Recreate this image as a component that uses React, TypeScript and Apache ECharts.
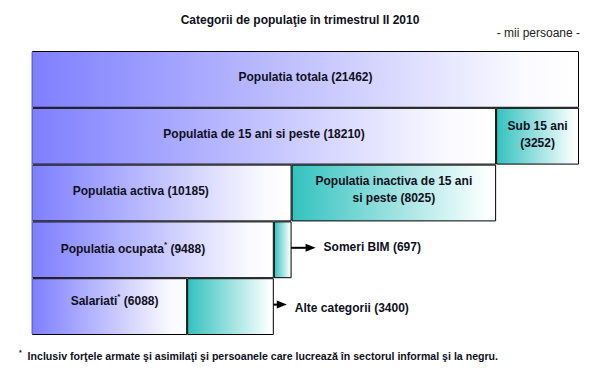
import React, { useEffect, useRef } from 'react';
import * as echarts from 'echarts';

const titleText = 'Categorii de populaţie în trimestrul II 2010';
const unitNote = '- mii persoane -';
const footnoteText = 'Inclusiv forţele armate şi asimilaţi şi persoanele care lucrează în sectorul informal şi la negru.';

const categories = ['Populatia totala', 'Populatia de 15 ani si peste', 'Populatia activa', 'Populatia ocupata', 'Salariati'];
const mainValues = [21462, 18210, 10185, 9488, 6088];
const mainStarred = [false, false, false, true, true];
const restNames = ['', 'Sub 15 ani', 'Populatia inactiva de 15 ani\nsi peste', 'Someri BIM', 'Alte categorii'];
const restValues: (number | null)[] = [null, 3252, 8025, 697, 3400];

// layout / style (not data)
const mainOffsets = [[0, -2], [0, -2], [-21, -2], [-20, -1], [5, -6]];
const restOutside = [false, false, false, true, true];
const restDistance = [0, 0, 0, 32, 21];
const restOffsets = [[0, 0], [0, -2], [0, -3.5], [0, -3], [0, 1.5]];

const FONT = "'Liberation Sans', Arial, sans-serif";
const TXT = '#10101c';
const PURPLE_LEFT = '#7F7FFF';

export default function App() {
  const ref = useRef<HTMLDivElement>(null);
  useEffect(() => {
    document.body.style.margin = '0';
    const chart = echarts.init(ref.current!, null, { renderer: 'svg' });
    const purple = {
      type: 'linear', x: 0, y: 0, x2: 1, y2: 0,
      colorStops: [
        { offset: 0, color: PURPLE_LEFT },
        { offset: 0.9, color: '#FAFAFF' },
        { offset: 1, color: '#FFFFFF' },
      ],
    };
    const teal = {
      type: 'linear', x: 0, y: 0, x2: 1, y2: 0,
      colorStops: [
        { offset: 0, color: '#33C2BF' },
        { offset: 0.95, color: '#FAFFFF' },
        { offset: 1, color: '#FFFFFF' },
      ],
    };
    const rich = {
      b: { fontFamily: FONT, fontWeight: 'bold', fontSize: 12, color: TXT, lineHeight: 17 },
      s: { fontFamily: FONT, fontWeight: 'bold', fontSize: 8, color: TXT, verticalAlign: 'top', lineHeight: 17 },
    };
    const mainData = mainValues.map((v, i) => ({
      value: v,
      label: {
        show: true,
        position: 'inside',
        offset: mainOffsets[i],
        formatter: () => `{b|${categories[i]}}${mainStarred[i] ? '{s|*}' : ''}{b| (${v})}`,
        rich,
      },
    }));
    const restData = restValues.map((v, i) => {
      if (v == null) return { value: '-' };
      const lines = restNames[i].split('\n');
      let text: string;
      if (i === 1) text = `{b|${lines[0]}}\n{b|(${v})}`;
      else text = lines.map((l, k) => `{b|${l}${k === lines.length - 1 ? ' (' + v + ')' : ''}}`).join('\n');
      return {
        value: v,
        label: {
          show: true,
          position: restOutside[i] ? 'right' : 'inside',
          distance: restDistance[i],
          offset: restOffsets[i],
          align: restOutside[i] ? 'left' : 'center',
          formatter: () => text,
          rich,
        },
      };
    });

    chart.setOption({
      animation: false,
      title: {
        text: titleText,
        left: 'center',
        top: 9,
        textStyle: { fontFamily: FONT, fontWeight: 'bold', fontSize: 12, color: TXT },
      },
      grid: { left: 32, right: 21, top: 51, bottom: 40 },
      xAxis: { type: 'value', min: 0, max: mainValues[0], show: false },
      yAxis: { type: 'category', data: categories, inverse: true, show: false },
      series: [
        {
          type: 'bar', stack: 'p', data: mainData, barWidth: '100%', barCategoryGap: '0%',
          itemStyle: { color: purple, borderColor: '#000', borderWidth: 1 },
        },
        {
          type: 'bar', stack: 'p', data: restData, barWidth: '100%', barCategoryGap: '0%',
          itemStyle: { color: teal, borderColor: '#000', borderWidth: 1 },
        },
      ],
    });

    const graphics: any[] = [
      {
        type: 'text', right: 20, top: 27,
        style: { text: unitNote, fontFamily: FONT, fontSize: 12, fill: '#222' },
      },
      {
        type: 'text', left: 19, top: 349,
        style: {
          text: `{s|*}{b|  ${footnoteText}}`,
          rich: {
            b: { fontFamily: FONT, fontWeight: 'bold', fontSize: 10.6, fill: TXT, lineHeight: 14 },
            s: { fontFamily: FONT, fontWeight: 'bold', fontSize: 7, fill: TXT, verticalAlign: 'top', lineHeight: 14 },
          },
        },
      },
    ];
    // hide the left edge border (the reference boxes have no left outline)
    const topLeft = chart.convertToPixel({ xAxisIndex: 0, yAxisIndex: 0 }, [0, categories[0]]) as number[];
    const botLeft = chart.convertToPixel({ xAxisIndex: 0, yAxisIndex: 0 }, [0, categories[categories.length - 1]]) as number[];
    const half = (botLeft[1] - topLeft[1]) / (categories.length - 1) / 2;
    graphics.push({
      type: 'rect', z: 100,
      shape: { x: topLeft[0] - 0.6, y: topLeft[1] - half + 1, width: 1.4, height: botLeft[1] - topLeft[1] + 2 * half - 2 },
      style: { fill: PURPLE_LEFT },
    });
    restValues.forEach((v, i) => {
      if (v == null || !restOutside[i]) return;
      const end = chart.convertToPixel({ xAxisIndex: 0, yAxisIndex: 0 }, [mainValues[i] + v, categories[i]]) as number[];
      const labelX = end[0] + restDistance[i];
      const y = end[1] - 2;
      graphics.push({
        type: 'line',
        shape: { x1: labelX - 46, y1: y, x2: labelX - 16, y2: y },
        style: { stroke: '#000', lineWidth: 2 },
      });
      graphics.push({
        type: 'polygon',
        shape: { points: [[labelX - 18, y - 4], [labelX - 8, y], [labelX - 18, y + 4]] },
        style: { fill: '#000' },
      });
    });
    chart.setOption({ graphic: graphics });
    return () => chart.dispose();
  }, []);
  return <div ref={ref} style={{ position: 'fixed', left: 0, top: 0, width: 600, height: 375, background: '#fff' }} />;
}
